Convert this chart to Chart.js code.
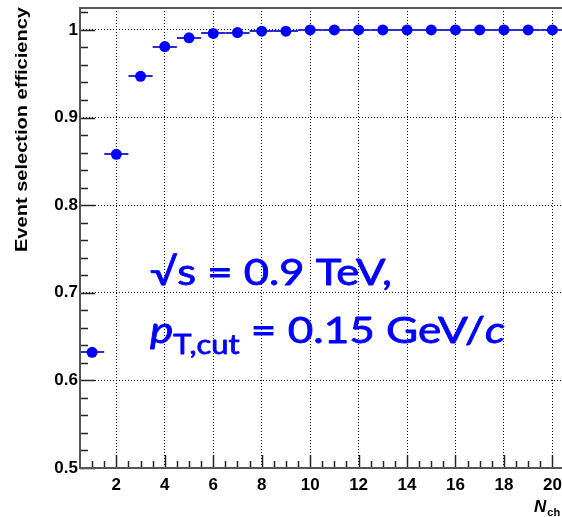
<!DOCTYPE html>
<html>
<head>
<meta charset="utf-8">
<script src="https://cdn.jsdelivr.net/npm/chart.js@4/dist/chart.umd.min.js"></script>
<style>
html,body{margin:0;padding:0;background:#fff;overflow:hidden;width:562px;height:517px;}
canvas{position:absolute;left:0;top:0;}
</style>
</head>
<body>
<canvas id="c" width="570" height="517"></canvas>
<script>
// ---- data ----
const nch = [1,2,3,4,5,6,7,8,9,10,11,12,13,14,15,16,17,18,19,20];
const efficiency = [0.632,0.858,0.947,0.981,0.991,0.996,0.997,0.9985,0.9985,1.0,1.0,1.0,1.0,1.0,1.0,1.0,1.0,1.0,1.0,1.0];
const xErr = [0.5,0.5,0.5,0.5,0.5,0.5,0.5,0.5,0.5,0.5,0.5,0.5,0.5,0.5,0.5,0.5,0.5,0.5,0.5,0.5];
const xTickValues = [2,4,6,8,10,12,14,16,18,20];
const yTickValues = [0.5,0.6,0.7,0.8,0.9,1.0];
const yTickLabels = ['0.5','0.6','0.7','0.8','0.9','1'];
const yAxisTitle = 'Event selection efficiency';
const annotLine1 = '\u221As = 0.9 TeV,';

const points = nch.map((x,i)=>({x:x, y:efficiency[i]}));

const errorBars = {
  id:'errorBars',
  beforeDatasetsDraw(chart){
    const {ctx, scales:{x, y}} = chart;
    ctx.save();
    ctx.strokeStyle = '#2b2bd0';
    ctx.lineWidth = 2;
    nch.forEach((v,i)=>{
      const py = Math.round(y.getPixelForValue(efficiency[i]));
      ctx.beginPath();
      ctx.moveTo(x.getPixelForValue(v - xErr[i]), py);
      ctx.lineTo(x.getPixelForValue(v + xErr[i]), py);
      ctx.stroke();
    });
    ctx.restore();
  }
};

const frameAndText = {
  id:'frameAndText',
  afterDraw(chart){
    const {ctx, chartArea:a, scales:{x, y}} = chart;
    ctx.save();
    // ticks
    ctx.strokeStyle = '#222';
    ctx.lineWidth = 1.5;
    for (let v = 1.0; v <= 20.01; v += 0.5) {
      const px = Math.round(x.getPixelForValue(v)) + 0.5;
      const major = Math.abs(v/2 - Math.round(v/2)) < 1e-6;
      const len = major ? 13 : 7;
      ctx.beginPath(); ctx.moveTo(px, a.bottom); ctx.lineTo(px, a.bottom - len); ctx.stroke();
    }
    for (let k = 0; k <= 26; k++) {
      const v = 0.5 + k*0.02;
      const py = Math.round(y.getPixelForValue(v)) + 0.5;
      const major = (k % 5) === 0;
      const len = major ? 15 : 8;
      ctx.beginPath(); ctx.moveTo(a.left, py); ctx.lineTo(a.left + len, py); ctx.stroke();
    }
    // frame
    ctx.strokeStyle = '#555';
    ctx.lineWidth = 2;
    ctx.beginPath();
    ctx.moveTo(a.right+2, a.top); ctx.lineTo(a.left, a.top);
    ctx.lineTo(a.left, a.bottom); ctx.lineTo(a.right+2, a.bottom);
    ctx.stroke();

    // y title
    ctx.fillStyle = '#000';
    ctx.font = 'bold 17px "Liberation Sans", Arial, sans-serif';
    const tw = ctx.measureText(yAxisTitle).width;
    ctx.save();
    ctx.translate(27, 7);
    ctx.rotate(-Math.PI/2);
    ctx.scale(245/tw, 1);
    ctx.textAlign = 'right';
    ctx.textBaseline = 'alphabetic';
    ctx.fillText(yAxisTitle, 0, 0);
    ctx.restore();

    // x title N_ch
    ctx.textAlign = 'left';
    ctx.textBaseline = 'alphabetic';
    ctx.font = 'italic bold 17px "Liberation Sans", Arial, sans-serif';
    ctx.fillText('N', 534, 512);
    const nw = ctx.measureText('N').width;
    ctx.font = 'bold 11px "Liberation Sans", Arial, sans-serif';
    ctx.fillText('ch', 534 + nw + 1, 516);

    // annotation
    ctx.fillStyle = '#0000ff';
    ctx.strokeStyle = '#0000ff';
    ctx.lineWidth = 0.8;
    ctx.lineJoin = 'round';
    const fam = 'Lato, "Open Sans", sans-serif';
    function drawPieces(pieces, x0, base, target){
      let w = 0;
      pieces.forEach(p=>{ ctx.font = p.font; p.w = ctx.measureText(p.t).width; w += p.w; });
      const s = target / w;
      ctx.save();
      ctx.translate(x0, base);
      ctx.scale(s, 1);
      let cx = 0;
      pieces.forEach(p=>{ ctx.font = p.font; ctx.fillText(p.t, cx, p.dy || 0); ctx.strokeText(p.t, cx, p.dy || 0); cx += p.w; });
      ctx.restore();
    }
    drawPieces([{t:annotLine1, font:'37px '+fam}], 150, 285, 242);
    drawPieces([
      {t:'p', font:'italic 37px '+fam},
      {t:'T,cut', font:'26px '+fam, dy:11},
      {t:' = 0.15 GeV/', font:'37px '+fam},
      {t:'c', font:'italic 37px '+fam}
    ], 150, 343, 355);
    ctx.restore();
  }
};

new Chart(document.getElementById('c'), {
  type:'scatter',
  data:{ datasets:[{
    data: points,
    backgroundColor:'#0000ff',
    borderColor:'#0000ff',
    borderWidth:0,
    pointRadius:5.5,
    pointHoverRadius:5.5
  }]},
  options:{
    responsive:false,
    devicePixelRatio:1,
    animation:false,
    layout:{padding:{top:8, right:0, left:0, bottom:0}},
    plugins:{legend:{display:false}, tooltip:{enabled:false}},
    scales:{
      x:{
        type:'linear', min:0.5, max:20.5,
        afterBuildTicks(s){ s.ticks = xTickValues.map(v=>({value:v})); },
        afterFit(s){ s.height = 49; s.paddingLeft = 0; s.paddingRight = 0; },
        ticks:{ color:'#000', font:{family:'"Liberation Sans", Arial, sans-serif', size:17, weight:'bold'}, padding:7, maxRotation:0,
          callback:(v)=>String(v) },
        grid:{ color:'#000', lineWidth:1, drawTicks:false },
        border:{ display:false, dash:[1,2] }
      },
      y:{
        type:'linear', min:0.5, max:1.025,
        afterBuildTicks(s){ s.ticks = yTickValues.map(v=>({value:v})); },
        afterFit(s){ s.width = 80; s.paddingTop = 0; s.paddingBottom = 0; },
        ticks:{ color:'#000', font:{family:'"Liberation Sans", Arial, sans-serif', size:17, weight:'bold'}, padding:2,
          callback:(v)=>{ const i = yTickValues.findIndex(t=>Math.abs(t-v)<1e-9); return i>=0 ? yTickLabels[i] : ''; } },
        grid:{ color:'#000', lineWidth:1, drawTicks:false },
        border:{ display:false, dash:[1,2] }
      }
    }
  },
  plugins:[errorBars, frameAndText]
});
</script>
</body>
</html>
